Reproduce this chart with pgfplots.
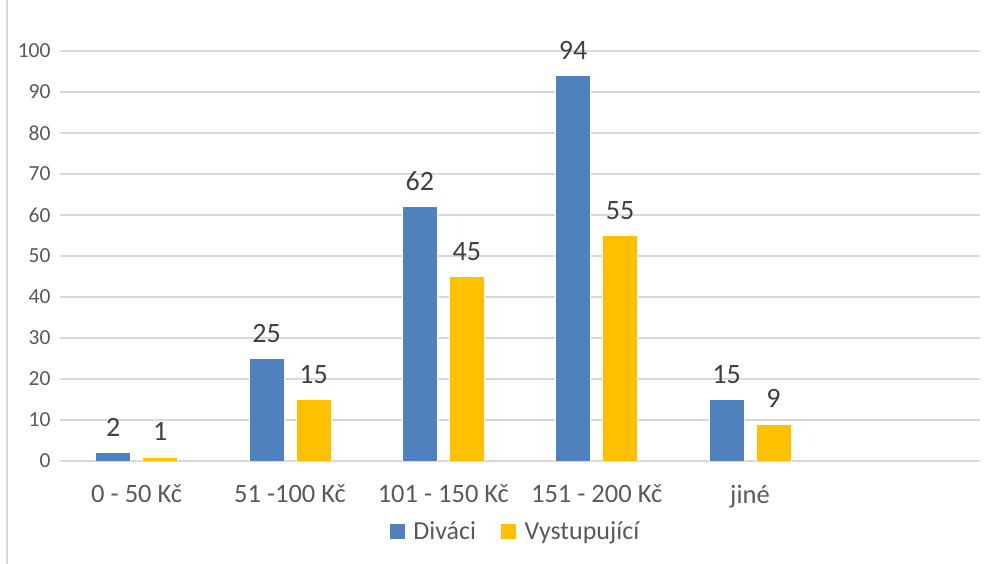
\documentclass[border=0pt]{standalone}
\usepackage{pgfplots}
\pgfplotsset{compat=1.18}
\usepackage{fontspec}
\setmainfont{Carlito}
\definecolor{cblue}{HTML}{4F81BD}
\definecolor{cyell}{HTML}{FFC000}
\definecolor{ctick}{HTML}{595959}
\definecolor{clab}{HTML}{404040}
\definecolor{cgrid}{HTML}{D9D9D9}
\begin{document}
\begin{tikzpicture}[x=1pt,y=1pt]
\begin{axis}[
  at={(0,0)}, anchor=south west,
  scale only axis, width=920pt, height=410pt,
  ymin=0, ymax=100, xmin=-0.5, xmax=5.5,
  ytick={0,10,...,100},
  xtick={0,1,2,3,4},
  xticklabels={0 - 50 Kč, 51 -100 Kč, 101 - 150 Kč, 151 - 200 Kč, jiné},
  ymajorgrids, major grid style={cgrid, line width=1.3pt},
  axis line style={draw=none}, tick style={draw=none},
  /pgf/number format/assume math mode=true,
  yticklabel style={font=\fontsize{21.5}{24}\selectfont, text=ctick, xshift=-6pt},
  xticklabel style={font=\fontsize{26.5}{30}\selectfont, text=ctick, yshift=-16pt},
  ybar=12pt, bar width=35pt,
  nodes near coords,
  every node near coord/.append style={font=\fontsize{28}{32}\selectfont, text=clab, inner sep=0pt, yshift=16pt},
  legend columns=2,
  legend style={at={(0.4935,-0.171)}, anchor=center, draw=none, fill=none,
    font=\fontsize{26}{30}\selectfont, text=ctick,
    nodes={inner sep=0pt},
    /tikz/every odd column/.append style={column sep=8pt},
    /tikz/every even column/.append style={column sep=24pt}},
  legend image code/.code={\fill[#1] (0pt,-8pt) rectangle (16pt,8pt);},
]
\addplot[fill=cblue, draw=white, line width=0.6pt] coordinates {(0,2) (1,25) (2,62) (3,94) (4,15)};
\addplot[fill=cyell, draw=white, line width=0.6pt] coordinates {(0,1) (1,15) (2,45) (3,55) (4,9)};
\legend{Diváci, Vystupující}
\end{axis}
\draw[cgrid, line width=1.2pt] (-53,556) -- (944,556);
\draw[cgrid, line width=1.2pt] (-53,556) -- (-53,-103);
\pgfresetboundingbox
\path (-60,-103) rectangle (944,461);
\end{tikzpicture}
\end{document}
